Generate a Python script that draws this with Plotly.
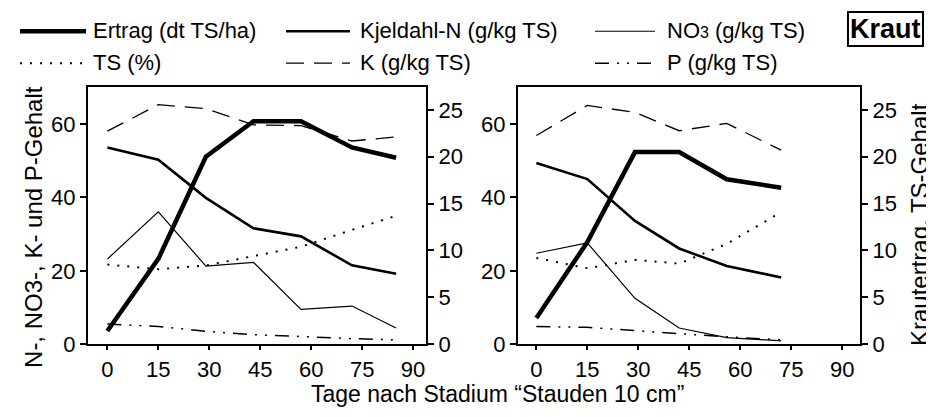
import plotly.graph_objects as go

# ---------------- data ----------------
days_left = [0, 15, 29, 43, 57, 72, 85]
days_right = [0, 15, 29, 42, 56, 72]

ertrag_left = [1.4, 9.1, 20.0, 23.8, 23.8, 21.0, 19.9]
kjeldahl_left = [53.6, 50.3, 39.9, 31.6, 29.4, 21.5, 19.2]
no3_left = [23.2, 36.1, 21.3, 22.3, 9.5, 10.4, 4.4]
ts_left = [8.5, 8.0, 8.4, 9.4, 10.4, 12.2, 13.7]
k_left = [58.1, 65.3, 64.2, 59.8, 59.6, 55.4, 56.5]
p_left = [5.5, 4.8, 3.5, 2.6, 2.1, 1.5, 1.2]

ertrag_right = [2.8, 10.9, 20.5, 20.5, 17.6, 16.7]
kjeldahl_right = [49.4, 45.0, 33.6, 26.1, 21.3, 18.2]
no3_right = [24.8, 27.6, 12.5, 4.4, 1.8, 0.9]
ts_right = [9.2, 8.1, 9.0, 8.6, 10.7, 14.1]
k_right = [56.9, 65.1, 63.2, 58.2, 60.2, 52.9]
p_right = [4.8, 4.6, 3.7, 2.8, 2.0, 1.2]

x_ticks = [0, 15, 30, 45, 60, 75, 90]
left_ticks = [0, 20, 40, 60]
right_ticks = [0, 5, 10, 15, 20, 25]

series_names = ["Ertrag (dt TS/ha)", "Kjeldahl-N (g/kg TS)",
                'NO<span style="font-size:16px">3</span> (g/kg TS)',
                "TS (%)", "K (g/kg TS)", "P (g/kg TS)"]

# ---------------- styles ----------------
W, H = 934, 417
FONT = "Liberation Sans, Arial, Helvetica, sans-serif"
styles = {
    "ertrag": dict(color="black", width=4.5, dash="solid"),
    "kjeldahl": dict(color="black", width=2.6, dash="solid"),
    "no3": dict(color="black", width=1.2, dash="solid"),
    "ts": dict(color="black", width=2, dash="2px,8px"),
    "k": dict(color="black", width=1.3, dash="18px,10px"),
    "p": dict(color="black", width=1.5, dash="14px,8px,2px,8px,2px,8px"),
}


def px(x):
    return x / W


def py(y):
    return 1 - y / H


fig = go.Figure()

panels = [
    ("x", "y", "y2", days_left,
     [ertrag_left, kjeldahl_left, no3_left, ts_left, k_left, p_left]),
    ("x2", "y3", "y4", days_right,
     [ertrag_right, kjeldahl_right, no3_right, ts_right, k_right, p_right]),
]
keys = ["ertrag", "kjeldahl", "no3", "ts", "k", "p"]
on_right = {"ertrag": True, "ts": True}

for xa, yl, yr, days, vals in panels:
    for key, name, v in zip(keys, series_names, vals):
        fig.add_trace(go.Scatter(
            x=days, y=v, mode="lines", name=name, showlegend=False,
            line=styles[key], xaxis=xa, yaxis=yr if on_right.get(key) else yl,
        ))

y_dom = [py(347), py(82)]
axis_common = dict(showline=True, linecolor="black", linewidth=2,
                   ticks="outside", tickcolor="black", tickwidth=1.5,
                   showgrid=False, zeroline=False,
                   tickfont=dict(family=FONT, size=22, color="black"))

fig.update_layout(
    width=W, height=H,
    margin=dict(l=0, r=0, t=0, b=0),
    paper_bgcolor="white", plot_bgcolor="white",
    font=dict(family=FONT, size=22, color="black"),
    xaxis=dict(domain=[px(80), px(418)], range=[-5.7, 93.8], tickvals=x_ticks,
               mirror=True, anchor="y", ticklen=4, **axis_common),
    yaxis=dict(domain=y_dom, range=[0, 70], tickvals=left_ticks, anchor="x",
               side="left", ticklen=6, **axis_common),
    yaxis2=dict(range=[0, 27.4], tickvals=right_ticks, overlaying="y",
                anchor="x", side="right", ticklen=6, **axis_common),
    xaxis2=dict(domain=[px(510), px(852)], range=[-5.4, 95.2], tickvals=x_ticks,
                mirror=True, anchor="y3", ticklen=4, **axis_common),
    yaxis3=dict(domain=y_dom, range=[0, 70], tickvals=left_ticks, anchor="x2",
                side="left", ticklen=6, **axis_common),
    yaxis4=dict(range=[0, 27.4], tickvals=right_ticks, overlaying="y3",
                anchor="x2", side="right", ticklen=6, **axis_common),
)

annotations = []
shapes = []

# legend (manual, 3 columns x 2 rows)
col_x = [(12, 78, 83), (278, 342, 350), (587, 647, 657)]
row_y = [23, 56]
for i, (key, name) in enumerate(zip(keys, series_names)):
    r, c = divmod(i, 3)
    x0, x1, tx = col_x[c]
    st = styles[key]
    shapes.append(dict(type="line", xref="paper", yref="paper",
                       x0=px(x0), x1=px(x1), y0=py(row_y[r] + 1), y1=py(row_y[r] + 1),
                       line=dict(color="black", width=st["width"], dash=st["dash"])))
    annotations.append(dict(text=name, xref="paper", yref="paper", x=px(tx),
                            y=py(row_y[r]), xanchor="left", yanchor="middle",
                            showarrow=False, font=dict(family=FONT, size=22)))

# panel label
annotations.append(dict(text="<b>Kraut</b>", xref="paper", yref="paper",
                        x=px(877.5), y=py(21.5), xanchor="center", yanchor="middle",
                        showarrow=False, font=dict(family=FONT, size=27),
                        bordercolor="black", borderwidth=2, borderpad=1))

# axis titles
annotations.append(dict(text="Tage nach Stadium “Stauden 10 cm”", xref="paper",
                        yref="paper", x=px(489.5), y=py(398), xanchor="center",
                        yanchor="middle", showarrow=False,
                        font=dict(family=FONT, size=23)))
annotations.append(dict(text="N-, NO3-, K- und P-Gehalt", xref="paper",
                        yref="paper", x=px(26), y=py(226), xanchor="center",
                        yanchor="middle", textangle=-90, showarrow=False,
                        font=dict(family=FONT, size=24)))
annotations.append(dict(text="Krautertrag, TS-Gehalt", xref="paper",
                        yref="paper", x=px(911), y=py(224), xanchor="center",
                        yanchor="middle", textangle=-90, showarrow=False,
                        font=dict(family=FONT, size=24)))

fig.update_layout(annotations=annotations, shapes=shapes)
fig.write_html("out.html")
